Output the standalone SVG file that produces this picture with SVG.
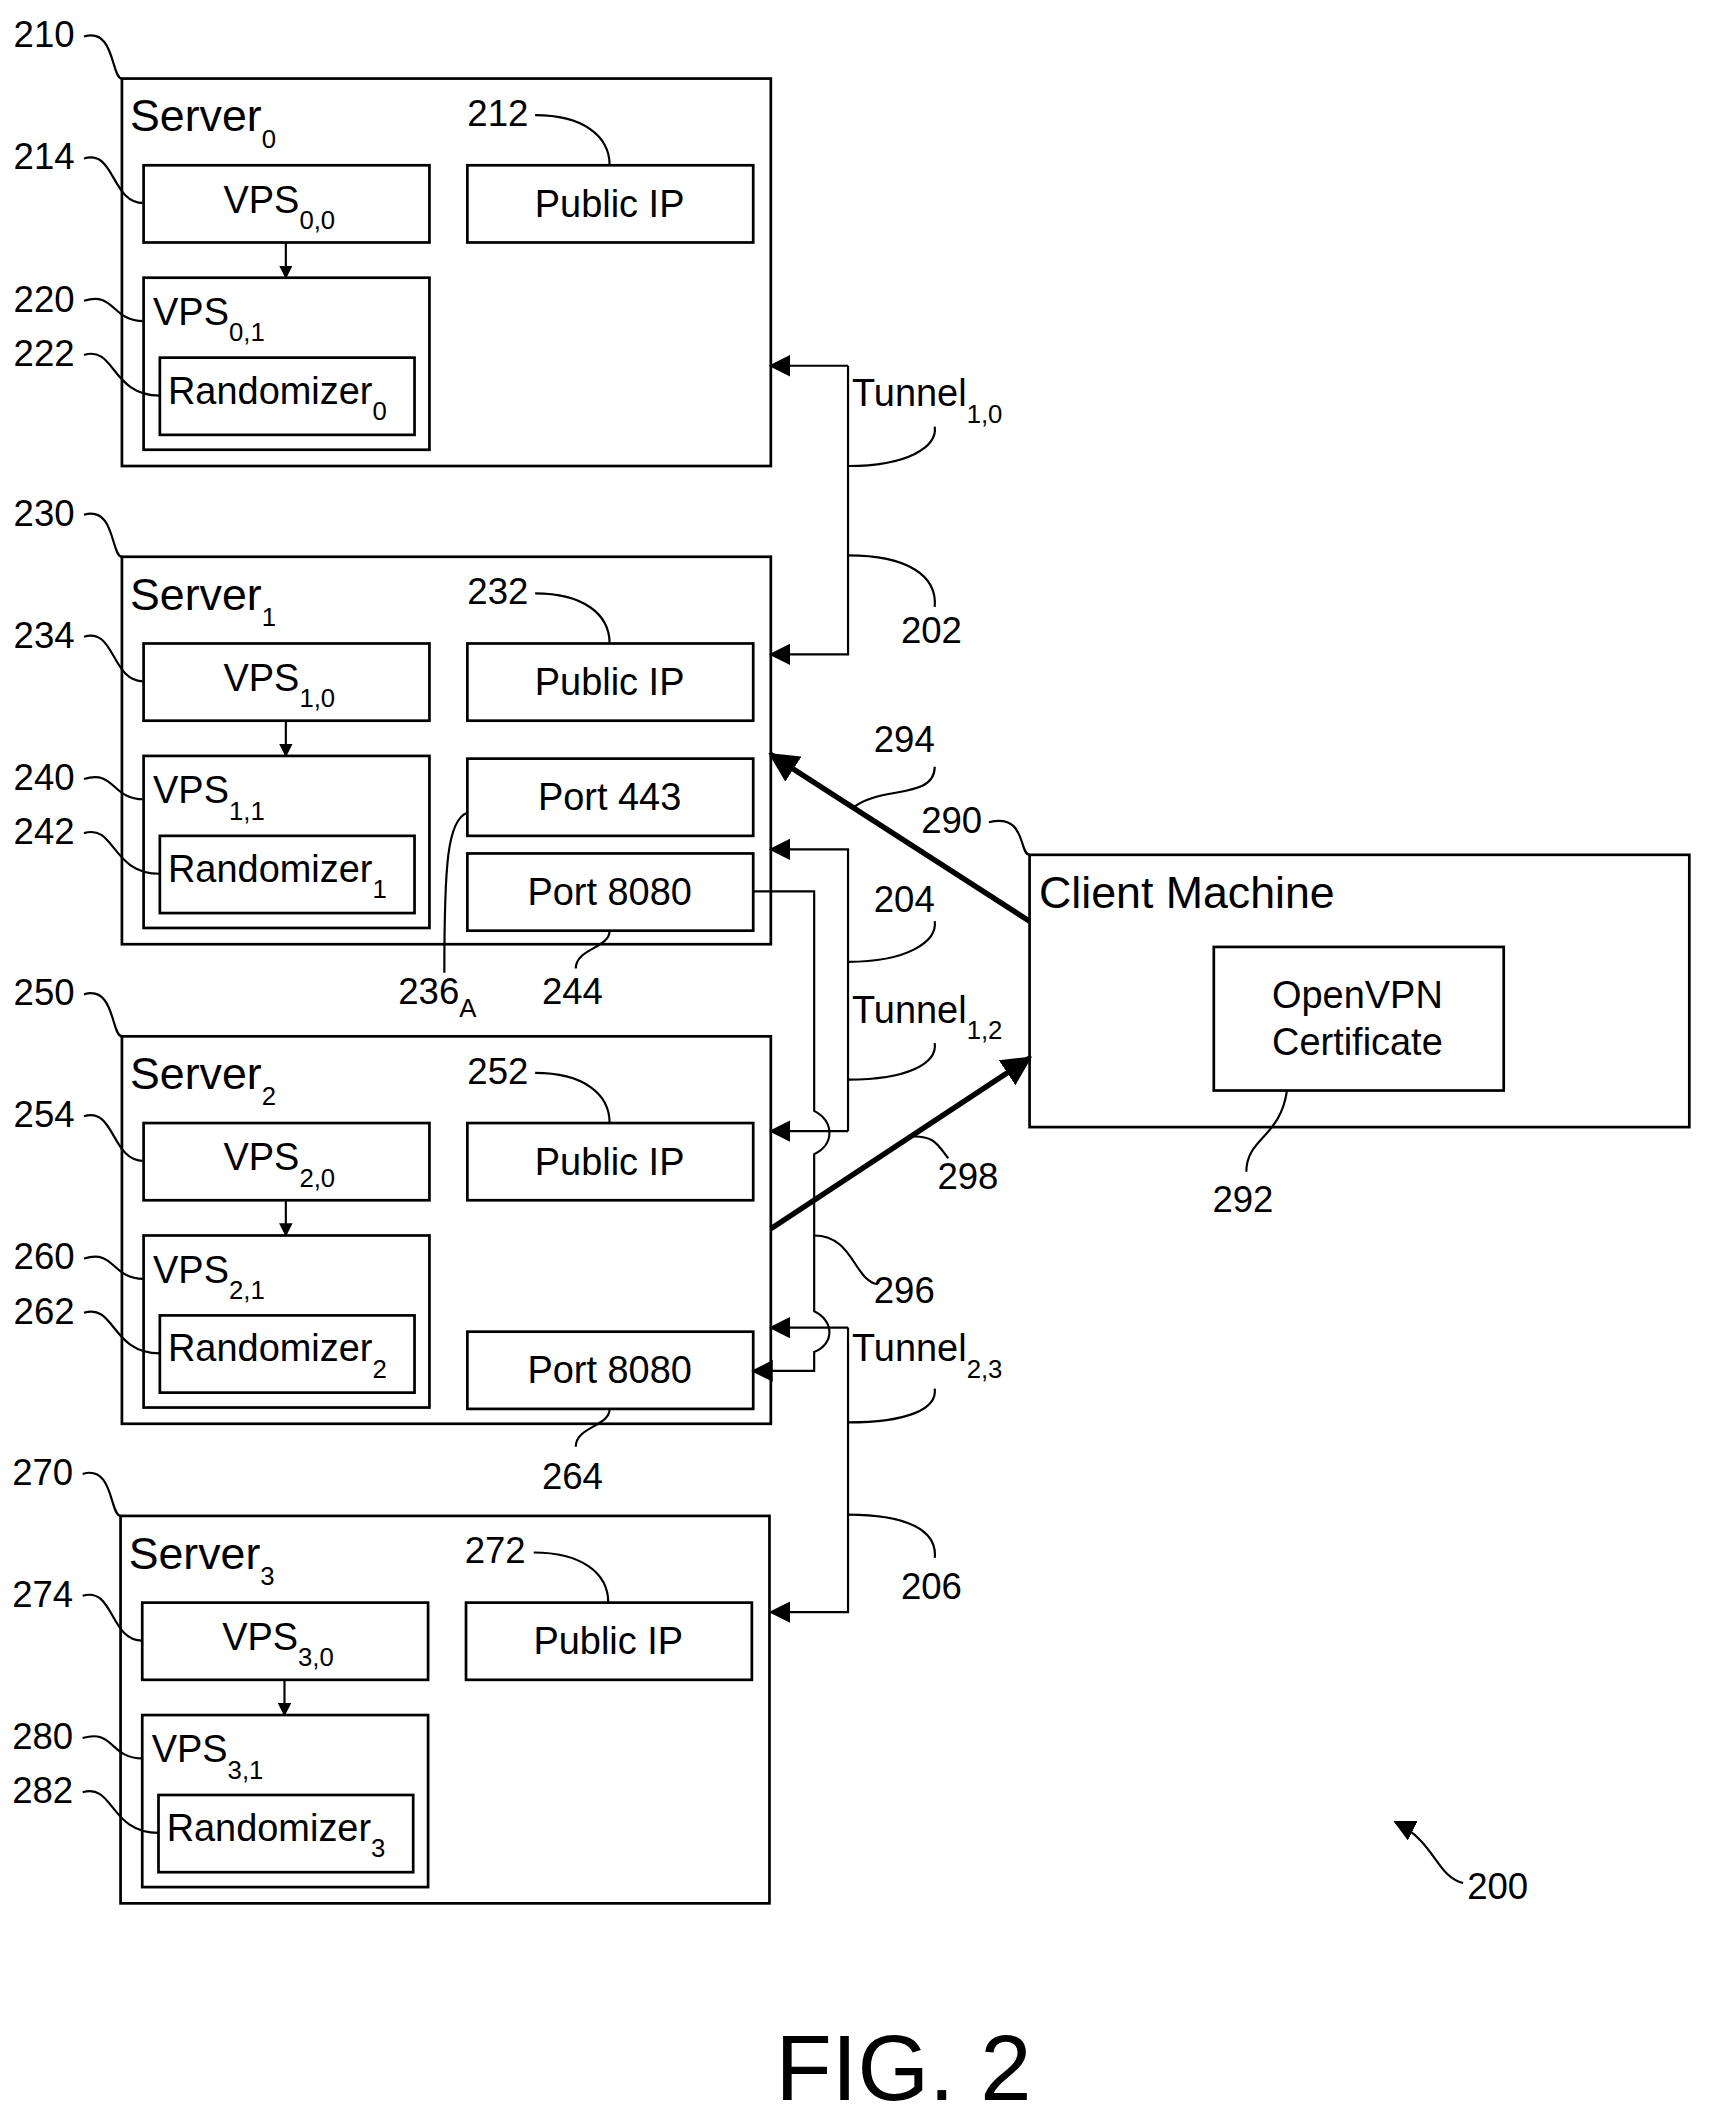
<svg xmlns="http://www.w3.org/2000/svg" width="1711" height="2125" viewBox="0 0 1711 2125">
<defs>
<style>
text{font-family:"Liberation Sans",Arial,sans-serif;fill:#000}
.t{font-size:28px}
.h{font-size:33px}
.s{font-size:19px}
.n{font-size:27px}
.b{fill:none;stroke:#000;stroke-width:2}
.l{fill:none;stroke:#000;stroke-width:1.6}
.k{fill:none;stroke:#000;stroke-width:4}
</style>
<marker id="a" markerWidth="10" markerHeight="10" refX="9" refY="5" orient="auto" markerUnits="userSpaceOnUse"><path d="M0,0L10,5L0,10z"/></marker>
<marker id="ab" viewBox="0 0 10 10" markerWidth="22" markerHeight="22" refX="9" refY="5" orient="auto" markerUnits="userSpaceOnUse"><path d="M0,0L10,5L0,10z"/></marker>
<marker id="am" viewBox="0 0 10 10" markerWidth="16" markerHeight="16" refX="9" refY="5" orient="auto" markerUnits="userSpaceOnUse"><path d="M0,0L10,5L0,10z"/></marker>
<g id="srv">
<rect class="b" x="90" y="58" width="479" height="286"/>
<rect class="b" x="106" y="122" width="211" height="57"/>
<rect class="b" x="345" y="122" width="211" height="57"/>
<line class="l" x1="211" y1="179" x2="211" y2="205" marker-end="url(#a)"/>
<rect class="b" x="106" y="205" width="211" height="127"/>
<rect class="b" x="118" y="264" width="188" height="57"/>
<text class="t" x="450" y="160" text-anchor="middle">Public IP</text>
<path class="l" d="M62,27 C85,20 82,58 90,58"/>
<path class="l" d="M62,117 C85,110 82,150 106,150"/>
<path class="l" d="M62,222 C85,215 82,237 106,237"/>
<path class="l" d="M62,262 C85,255 82,292 118,292"/>
<path class="l" d="M395,85 C430,85 450,100 450,122"/>
</g>
</defs>
<g transform="scale(1.3547)">
<g id="server0">
<use href="#srv"/>
<text class="h" x="96" y="97">Server<tspan class="s" dy="12">0</tspan></text>
<text class="t" x="165" y="157">VPS<tspan class="s" dy="12">0,0</tspan></text>
<text class="t" x="113" y="240">VPS<tspan class="s" dy="12">0,1</tspan></text>
<text class="t" x="124" y="298">Randomizer<tspan class="s" dy="12">0</tspan></text>
<text class="n" x="10" y="35">210</text><text class="n" x="10" y="125">214</text><text class="n" x="10" y="230">220</text><text class="n" x="10" y="270">222</text><text class="n" x="345" y="93">212</text>
</g>
<g id="server1">
<use href="#srv" y="353"/>
<text class="h" x="96" y="450">Server<tspan class="s" dy="12">1</tspan></text>
<text class="t" x="165" y="510">VPS<tspan class="s" dy="12">1,0</tspan></text>
<text class="t" x="113" y="593">VPS<tspan class="s" dy="12">1,1</tspan></text>
<text class="t" x="124" y="651">Randomizer<tspan class="s" dy="12">1</tspan></text>
<text class="n" x="10" y="388">230</text><text class="n" x="10" y="478">234</text><text class="n" x="10" y="583">240</text><text class="n" x="10" y="623">242</text><text class="n" x="345" y="446">232</text>
<rect class="b" x="345" y="560" width="211" height="57"/>
<rect class="b" x="345" y="630" width="211" height="57"/>
<text class="t" x="450" y="598" text-anchor="middle">Port 443</text>
<text class="t" x="450" y="668" text-anchor="middle">Port 8080</text>
<path class="l" d="M345,600 C330,605 328,640 328,718"/>
<path class="l" d="M450,687 C450,700 425,700 425,715"/>
<text class="n" x="294" y="741">236<tspan class="s" dy="10">A</tspan></text>
<text class="n" x="400" y="741">244</text>
</g>
<g id="server2">
<use href="#srv" y="707"/>
<text class="h" x="96" y="804">Server<tspan class="s" dy="12">2</tspan></text>
<text class="t" x="165" y="864">VPS<tspan class="s" dy="12">2,0</tspan></text>
<text class="t" x="113" y="947">VPS<tspan class="s" dy="12">2,1</tspan></text>
<text class="t" x="124" y="1005">Randomizer<tspan class="s" dy="12">2</tspan></text>
<text class="n" x="10" y="742">250</text><text class="n" x="10" y="832">254</text><text class="n" x="10" y="937">260</text><text class="n" x="10" y="977">262</text><text class="n" x="345" y="800">252</text>
<rect class="b" x="345" y="983" width="211" height="57"/>
<text class="t" x="450" y="1021" text-anchor="middle">Port 8080</text>
<path class="l" d="M450,1040 C450,1053 425,1053 425,1068"/>
<text class="n" x="400" y="1099">264</text>
</g>
<g id="server3">
<use href="#srv" x="-1" y="1061"/>
<text class="h" x="95" y="1158">Server<tspan class="s" dy="12">3</tspan></text>
<text class="t" x="164" y="1218">VPS<tspan class="s" dy="12">3,0</tspan></text>
<text class="t" x="112" y="1301">VPS<tspan class="s" dy="12">3,1</tspan></text>
<text class="t" x="123" y="1359">Randomizer<tspan class="s" dy="12">3</tspan></text>
<text class="n" x="9" y="1096">270</text><text class="n" x="9" y="1186">274</text><text class="n" x="9" y="1291">280</text><text class="n" x="9" y="1331">282</text><text class="n" x="343" y="1154">272</text>
</g>
<g id="client">
<rect class="b" x="760" y="631" width="487" height="201"/>
<text class="h" x="767" y="670">Client Machine</text>
<rect class="b" x="896" y="699" width="214" height="106"/>
<text class="t" x="1002" y="744" text-anchor="middle">OpenVPN</text>
<text class="t" x="1002" y="779" text-anchor="middle">Certificate</text>
<path class="l" d="M730,607 C758,600 752,631 760,631"/>
<text class="n" x="680" y="615">290</text>
<path class="l" d="M950,805 C945,840 920,840 920,865"/>
<text class="n" x="895" y="895">292</text>
</g>
<g id="connectors">
<path class="l" d="M626,270 V483 H569" marker-end="url(#am)"/>
<line class="l" x1="626" y1="270" x2="569" y2="270" marker-end="url(#am)"/>
<text class="t" x="629" y="300">Tunnel<tspan class="s" dy="12">1,0</tspan></text>
<path class="l" d="M626,344 C670,344 692,330 690,315"/>
<path class="l" d="M626,410 C670,410 692,425 690,448"/>
<text class="n" x="665" y="475">202</text>
<path class="l" d="M626,835 V627 H569" marker-end="url(#am)"/>
<line class="l" x1="626" y1="835" x2="569" y2="835" marker-end="url(#am)"/>
<path class="l" d="M626,710 C670,710 692,695 690,680"/>
<text class="n" x="645" y="673">204</text>
<text class="t" x="629" y="755">Tunnel<tspan class="s" dy="12">1,2</tspan></text>
<path class="l" d="M626,797 C670,797 692,785 690,770"/>
<path class="l" d="M556,658 H601 V820 C616,828 616,845 601,852 V968 C616,975 616,992 601,998 V1012 H556" marker-end="url(#am)"/>
<path class="l" d="M626,980 V1190 H569" marker-end="url(#am)"/>
<line class="l" x1="626" y1="980" x2="569" y2="980" marker-end="url(#am)"/>
<text class="t" x="629" y="1005">Tunnel<tspan class="s" dy="12">2,3</tspan></text>
<path class="l" d="M626,1050 C670,1050 692,1040 690,1025"/>
<path class="l" d="M626,1118 C670,1118 692,1130 690,1150"/>
<text class="n" x="665" y="1180">206</text>
<path class="l" d="M601,912 C630,912 630,945 648,948"/>
<text class="n" x="645" y="962">296</text>
<line class="k" x1="760" y1="680" x2="569" y2="557" marker-end="url(#ab)"/>
<path class="l" d="M690,566 C690,590 650,580 630,596"/>
<text class="n" x="645" y="555">294</text>
<line class="k" x1="569" y1="907" x2="760" y2="781" marker-end="url(#ab)"/>
<path class="l" d="M672,839 C690,838 692,845 700,855"/>
<text class="n" x="692" y="878">298</text>
</g>
<path class="l" d="M1080,1390 C1060,1385 1060,1360 1030,1345" marker-end="url(#am)"/>
<text class="n" x="1083" y="1402">200</text>
<text x="667" y="1550" text-anchor="middle" style="font-size:68px">FIG. 2</text>
</g>
</svg>
